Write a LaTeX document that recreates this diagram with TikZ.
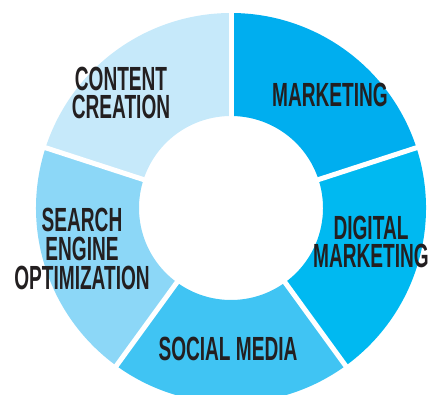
\documentclass[tikz,border=0pt]{standalone}
\usepackage{fontspec}
\newfontfamily\labelfont[FakeStretch=0.57]{Liberation Sans}
\usetikzlibrary{positioning}

\definecolor{marketing}{RGB}{0,174,239}
\definecolor{digital}{RGB}{0,185,241}
\definecolor{social}{RGB}{64,196,243}
\definecolor{seo}{RGB}{140,215,247}
\definecolor{content}{RGB}{198,233,250}
\definecolor{ink}{RGB}{35,31,32}

\tikzset{
  seglabel/.style={text=ink,inner sep=0pt,align=center,
    font=\labelfont\bfseries\fontsize{33.5}{28.8}\selectfont}
}

\begin{document}
\begin{tikzpicture}[x=1pt,y=1pt]
                \useasboundingbox (0,0) rectangle (430,394);
                \coordinate (O) at (231,186);
                % ring segments
                \foreach \a/\c in {18/marketing,90/content,162/seo,234/social,306/digital}
                    \fill[\c] (O) ++(\a:195) arc[start angle=\a,delta angle=72,radius=195]
                        -- ++(\a+72:-103) arc[start angle=\a+72,delta angle=-72,radius=92] -- cycle;
                % white gaps
                \foreach \a in {18,90,162,234,306}
                    \draw[white,line width=5pt] (O) -- ++(\a:200);
                \node[seglabel](Marketing)at(330, 299){MARKETING};
                \node[seglabel](Digital)at(371, 152){DIGITAL\\MARKETING};
                \node[seglabel](Social)at(228, 45){SOCIAL MEDIA};
                \node[seglabel](Seo)at(82, 145){SEARCH\\ENGINE\\OPTIMIZATION};
                \node[seglabel](Content)at(121, 301){CONTENT\\CREATION};
\end{tikzpicture}
\end{document}
